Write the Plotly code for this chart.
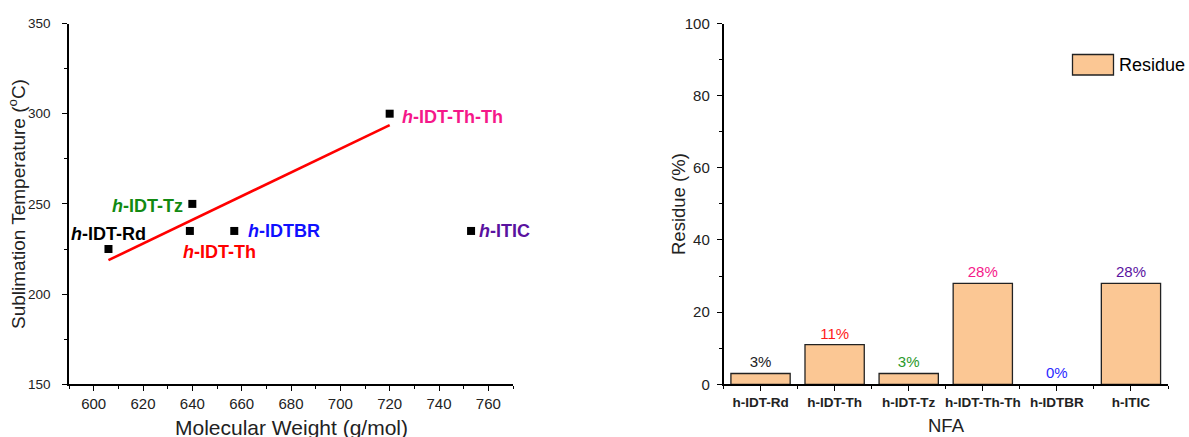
import plotly.graph_objects as go

# ---------------- data ----------------
nfa_names = ["h-IDT-Rd", "h-IDT-Th", "h-IDT-Tz", "h-IDT-Th-Th", "h-IDTBR", "h-ITIC"]
mol_weight = [606, 639, 640, 720, 657, 753]
sublim_temp = [225, 235, 250, 300, 235, 235]
fit_x = [606, 720]
fit_y = [218.8, 293.7]
residue = [3, 11, 3, 28, 0, 28]
residue_labels = ["3%", "11%", "3%", "28%", "0%", "28%"]
x_ticks_mw = [600, 620, 640, 660, 680, 700, 720, 740, 760]
y_ticks_t = [150, 200, 250, 300, 350]
y_ticks_res = [0, 20, 40, 60, 80, 100]

# ---------------- styles ----------------
FONT = "Arial, 'Liberation Sans', sans-serif"
label_colors = ["#000000", "#ff0000", "#128a12", "#f5188a", "#1010ff", "#5a12a0"]
bar_text_colors = ["#222222", "#ff1a1a", "#2a9a2a", "#f5188a", "#2a2aff", "#5a12a0"]
# annotation placement relative to each data point: (xanchor, xshift, yshift)
label_offsets = [("center", 0, 15), ("left", -9, -21), ("right", -7, -2),
                 ("left", 10, -3), ("left", 12, 0), ("left", 6, 0)]

W, H = 1189, 437
def px_x(p):
    return p / W
def px_y(p):
    return 1 - p / H

fig = go.Figure()

# scatter points
fig.add_trace(go.Scatter(
    x=mol_weight, y=sublim_temp, mode="markers",
    marker=dict(symbol="square", size=8, color="black"),
    xaxis="x", yaxis="y", showlegend=False, cliponaxis=False))
# linear fit
fig.add_trace(go.Scatter(
    x=fit_x, y=fit_y, mode="lines",
    line=dict(color="#ff0000", width=2.6),
    xaxis="x", yaxis="y", showlegend=False))

# bars (no outline drawn for an empty bar)
bar_line_w = [1.3 if v > 0 else 0 for v in residue]
fig.add_trace(go.Bar(
    x=list(range(len(nfa_names))), y=residue, width=0.8,
    marker=dict(color="#fbc794", line=dict(color="#222222", width=bar_line_w)),
    text=residue_labels, textposition="outside",
    textfont=dict(family=FONT, size=15, color=bar_text_colors),
    cliponaxis=False, name="Residue", showlegend=False,
    xaxis="x2", yaxis="y2"))

annotations = []
for name, xv, yv, col, (xa, xs, ys) in zip(nfa_names, mol_weight, sublim_temp, label_colors, label_offsets):
    rest = name[1:]
    annotations.append(dict(
        x=xv, y=yv, xref="x", yref="y", xanchor=xa, yanchor="middle",
        xshift=xs, yshift=ys, showarrow=False,
        text=f"<b><i>h</i>{rest}</b>",
        font=dict(family=FONT, size=18, color=col)))

# axis titles
title_font = dict(family=FONT, color="#222222")
annotations += [
    dict(x=px_x(17), y=px_y(204), xref="paper", yref="paper",
         xanchor="center", yanchor="middle", showarrow=False, textangle=-90,
         text="Sublimation Temperature (<sup>o</sup>C)", font=dict(size=19, **title_font)),
    dict(x=px_x(678), y=px_y(204), xref="paper", yref="paper",
         xanchor="center", yanchor="middle", showarrow=False, textangle=-90,
         text="Residue (%)", font=dict(size=18.5, **title_font)),
    dict(x=px_x(291), y=px_y(427), xref="paper", yref="paper",
         xanchor="center", yanchor="middle", showarrow=False,
         text="Molecular Weight (g/mol)", font=dict(size=21, **title_font)),
    dict(x=px_x(946), y=px_y(425), xref="paper", yref="paper",
         xanchor="center", yanchor="middle", showarrow=False,
         text="NFA", font=dict(size=18.5, **title_font)),
]

# manual legend for bar chart
annotations.append(dict(
    x=px_x(1117), y=px_y(65), xref="paper", yref="paper",
    xanchor="left", yanchor="middle", showarrow=False,
    text="Residue", font=dict(family=FONT, size=18, color="black")))
shapes = [dict(type="rect", xref="paper", yref="paper",
               x0=px_x(1072.5), x1=px_x(1113.5), y0=px_y(75), y1=px_y(54.5),
               fillcolor="#fbc794", line=dict(color="#222222", width=1.3))]

axis_common = dict(showgrid=False, zeroline=False, showline=True,
                   linecolor="black", linewidth=1.5, ticks="outside",
                   tickcolor="black", tickwidth=1.3, ticklen=5,
                   automargin=False)

fig.update_layout(
    width=W, height=H, autosize=False,
    margin=dict(l=0, r=0, t=0, b=0),
    paper_bgcolor="white", plot_bgcolor="white",
    font=dict(family=FONT, color="black"),
    showlegend=False,
    xaxis=dict(domain=[px_x(69), px_x(513)], range=[590, 770],
               tickvals=x_ticks_mw, anchor="y",
               tickfont=dict(size=15, color="#222222"),
               minor=dict(dtick=10, tick0=590, ticks="outside", ticklen=3, tickcolor="black"),
               **axis_common),
    yaxis=dict(domain=[px_y(384.3), px_y(23.5)], range=[150, 350],
               tickvals=y_ticks_t, anchor="x", ticklabelstandoff=9,
               tickfont=dict(size=13.5, color="#222222"),
               minor=dict(dtick=25, tick0=150, ticks="outside", ticklen=3, tickcolor="black"),
               **axis_common),
    xaxis2=dict(domain=[px_x(723.5), px_x(1168)], range=[-0.5, 5.5],
                tickvals=list(range(len(nfa_names))), ticktext=[f"<b>{n}</b>" for n in nfa_names],
                anchor="y2",
                tickfont=dict(size=13.5, color="#222222"),
                minor=dict(dtick=1, tick0=0.5, ticks="outside", ticklen=3, tickcolor="black"),
                **axis_common),
    yaxis2=dict(domain=[px_y(384.3), px_y(23.5)], range=[0, 100],
                tickvals=y_ticks_res, anchor="x2", ticklabelstandoff=4,
                tickfont=dict(size=15, color="#222222"),
                minor=dict(dtick=10, tick0=0, ticks="outside", ticklen=3, tickcolor="black"),
                **axis_common),
    annotations=annotations, shapes=shapes,
)

fig.write_html("out.html", config={"displayModeBar": False},
               post_script="document.body.style.margin='0';document.body.style.overflow='hidden';")
